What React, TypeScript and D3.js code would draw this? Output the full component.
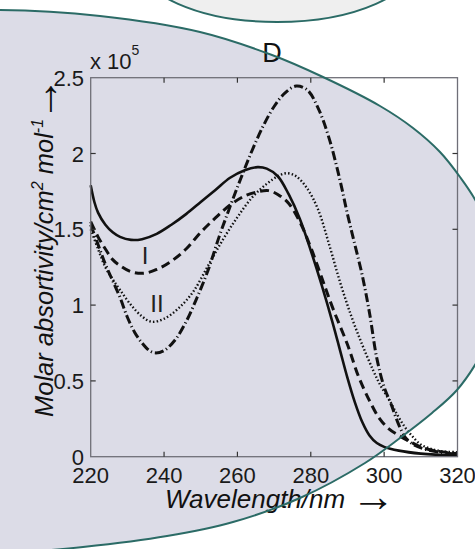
import React from "react";
import * as d3 from "d3";

// ---------- data (x 10^5 molar absorptivity) ----------
const WL_SOLID = [220, 221, 222, 224, 226, 228, 231, 234, 238, 242, 246, 250, 254, 258, 262, 265.5, 268, 271, 274, 277, 280, 283, 286, 288, 290, 292, 294, 296, 298, 300, 304, 310, 320];
const VAL_SOLID = [1.79, 1.68, 1.61, 1.53, 1.48, 1.45, 1.43, 1.435, 1.47, 1.53, 1.6, 1.68, 1.76, 1.84, 1.89, 1.91, 1.9, 1.85, 1.73, 1.57, 1.36, 1.13, 0.88, 0.7, 0.52, 0.36, 0.23, 0.14, 0.09, 0.065, 0.04, 0.02, 0.006];

const WL_DASH = [220, 222, 224, 226, 228, 231, 234.5, 238, 242, 246, 250, 254, 258, 262, 266, 268.5, 271, 274, 277, 280, 283, 286, 290, 293, 296, 298.5, 301, 304, 307, 311, 315, 320];
const VAL_DASH = [1.55, 1.45, 1.37, 1.3, 1.26, 1.22, 1.21, 1.235, 1.29, 1.37, 1.48, 1.575, 1.66, 1.72, 1.75, 1.755, 1.73, 1.67, 1.55, 1.38, 1.18, 0.98, 0.74, 0.53, 0.37, 0.26, 0.19, 0.14, 0.1, 0.055, 0.035, 0.02];

const WL_DOT = [220, 222, 224, 226, 228, 231, 234, 236.6, 240, 244, 248, 252, 256, 260, 264, 268, 271, 273.5, 276, 279, 282, 285, 288, 291, 294, 297, 299, 301.5, 303.5, 305.5, 307.5, 310, 313, 316, 320];
const VAL_DOT = [1.5, 1.37, 1.25, 1.17, 1.1, 1.0, 0.925, 0.89, 0.91, 0.98, 1.09, 1.26, 1.43, 1.58, 1.71, 1.8, 1.85, 1.87, 1.85, 1.77, 1.63, 1.4, 1.15, 0.93, 0.74, 0.57, 0.47, 0.37, 0.28, 0.2, 0.14, 0.08, 0.05, 0.035, 0.03];

const WL_DASHDOT = [220, 222, 224, 226, 228, 230, 232, 234, 236, 237.5, 240, 243, 246, 249, 252, 255, 258, 261, 264, 267, 270, 273, 276, 279, 282, 285, 288, 290, 292, 294, 296, 298, 300, 302, 304, 306, 308, 311, 315, 320];
const VAL_DASHDOT = [1.53, 1.4, 1.27, 1.16, 1.05, 0.92, 0.82, 0.75, 0.7, 0.685, 0.7, 0.77, 0.89, 1.05, 1.23, 1.45, 1.65, 1.84, 2.02, 2.18, 2.31, 2.4, 2.445, 2.42, 2.3, 2.1, 1.82, 1.6, 1.4, 1.2, 0.95, 0.65, 0.46, 0.34, 0.21, 0.12, 0.08, 0.05, 0.03, 0.015];

const X_TICKS = [220, 240, 260, 280, 300, 320];
const Y_TICKS = [0, 0.5, 1, 1.5, 2, 2.5];
const Y_TICK_LABELS = ["0", "0.5", "1", "1.5", "2", "2.5"];

// background shape outline points (decor)
const BLOB_X = [-100, 0, 100, 200, 272, 323, 380, 413, 440, 460, 477, 492, 500, 495, 478, 457, 432, 400, 365, 300, 233, 167, 83, 0, -100, -200];
const BLOB_Y = [14, 10, 16, 32, 55, 77, 106, 128, 152, 177, 203, 240, 285, 325, 360, 390, 413, 438, 463, 498, 522, 536, 547, 554, 560, 300];

const W = 475;
const H = 549;
const FONT = "'Liberation Sans', Arial, Helvetica, sans-serif";
const ARROW_FONT = "'Liberation Serif', 'DejaVu Serif', serif";

export default function App() {
  const left = 90.7, right = 457.5, top = 77.7, bottom = 456.7;
  const x = d3.scaleLinear().domain([220, 320]).range([left, right]);
  const y = d3.scaleLinear().domain([0, 2.5]).range([bottom, top]);

  const mk = (wl: number[], v: number[]) =>
    d3.line<number>().x((_, i) => x(wl[i])).y((_, i) => y(v[i])).curve(d3.curveCatmullRom.alpha(0.5))(wl) || "";

  const blob = d3
    .line<number>()
    .x((_, i) => BLOB_X[i])
    .y((_, i) => BLOB_Y[i])
    .curve(d3.curveCatmullRomClosed.alpha(0.5))(BLOB_X) || "";

  const teal = "#2b6b66";
  const axisCol = "#6f6f78";
  const innerTicksX = X_TICKS.slice(1, -1);
  const innerTicksY = Y_TICKS.slice(1, -1);

  return (
    <svg width={W} height={H} style={{ position: "fixed", left: 0, top: 0, background: "#fff" }}>
      <rect x={0} y={0} width={W} height={H} fill="#ffffff" />
      <path d={blob} fill="#dcdce7" stroke="none" />
      <ellipse cx={277} cy={-40} rx={140} ry={62} fill="#efefef" stroke={teal} strokeWidth={2} />

      {/* curves */}
      <g fill="none" stroke="#111" strokeLinejoin="round">
        <path d={mk(WL_SOLID, VAL_SOLID)} strokeWidth={2.6} />
        <path d={mk(WL_DASH, VAL_DASH)} strokeWidth={3} strokeDasharray="9,5" />
        <path d={mk(WL_DOT, VAL_DOT)} strokeWidth={2.4} strokeDasharray="1.5,2.2" />
        <path d={mk(WL_DASHDOT, VAL_DASHDOT)} strokeWidth={3} strokeDasharray="9,3,1.2,3" />
      </g>

      {/* frame */}
      <rect x={left} y={top} width={right - left} height={bottom - top} fill="none" stroke={axisCol} strokeWidth={1.3} />
      <g stroke="#333" strokeWidth={1.2}>
        {innerTicksX.map((t) => (
          <g key={"xt" + t}>
            <line x1={x(t)} x2={x(t)} y1={bottom} y2={bottom - 5} />
            <line x1={x(t)} x2={x(t)} y1={top} y2={top + 5} />
          </g>
        ))}
        {innerTicksY.map((t) => (
          <g key={"yt" + t}>
            <line x1={left} x2={left + 5} y1={y(t)} y2={y(t)} />
            <line x1={right} x2={right - 5} y1={y(t)} y2={y(t)} />
          </g>
        ))}
      </g>

      {/* tick labels */}
      <g fontFamily={FONT} fontSize={22} fill="#1a1a1a">
        {X_TICKS.map((t) => (
          <text key={"xl" + t} x={x(t)} y={483} textAnchor="middle">
            {t}
          </text>
        ))}
        {Y_TICKS.map((t, i) => (
          <text key={"yl" + t} x={84} y={y(t) + 8} textAnchor="end">
            {Y_TICK_LABELS[i]}
          </text>
        ))}
      </g>

      {/* exponent */}
      <text x={90} y={69} fontFamily={FONT} fontSize={22} fill="#1a1a1a">
        x 10
        <tspan dy={-14} fontSize={14}>5</tspan>
      </text>

      {/* panel title */}
      <text x={272} y={62} fontFamily={FONT} fontSize={27} fill="#111" textAnchor="middle">
        D
      </text>

      {/* curve labels */}
      <text x={145} y={264} fontFamily={FONT} fontSize={24} fill="#222" textAnchor="middle">I</text>
      <text x={157} y={312} fontFamily={FONT} fontSize={24} fill="#222" textAnchor="middle">II</text>

      {/* axis titles */}
      <text x={165} y={508} fontFamily={FONT} fontSize={26} fontStyle="italic" fill="#111" textAnchor="start">
        Wavelength/nm
        <tspan fontFamily={ARROW_FONT} fontStyle="normal" fontSize={44} dx={6} dy={3}>→</tspan>
      </text>
      <text
        transform="translate(53,417) rotate(-90)"
        fontFamily={FONT}
        fontSize={25.5}
        fontStyle="italic"
        fill="#111"
        textAnchor="start"
      >
        Molar absortivity/cm
        <tspan dy={-10} fontSize={16}>2</tspan>
        <tspan dy={10}> mol</tspan>
        <tspan dy={-10} fontSize={16}>-1</tspan>
        <tspan dy={15} dx={-2} fontFamily={ARROW_FONT} fontStyle="normal" fontSize={44}>→</tspan>
      </text>

      {/* outline of the background shape on top */}
      <path d={blob} fill="none" stroke={teal} strokeWidth={2} />
    </svg>
  );
}
